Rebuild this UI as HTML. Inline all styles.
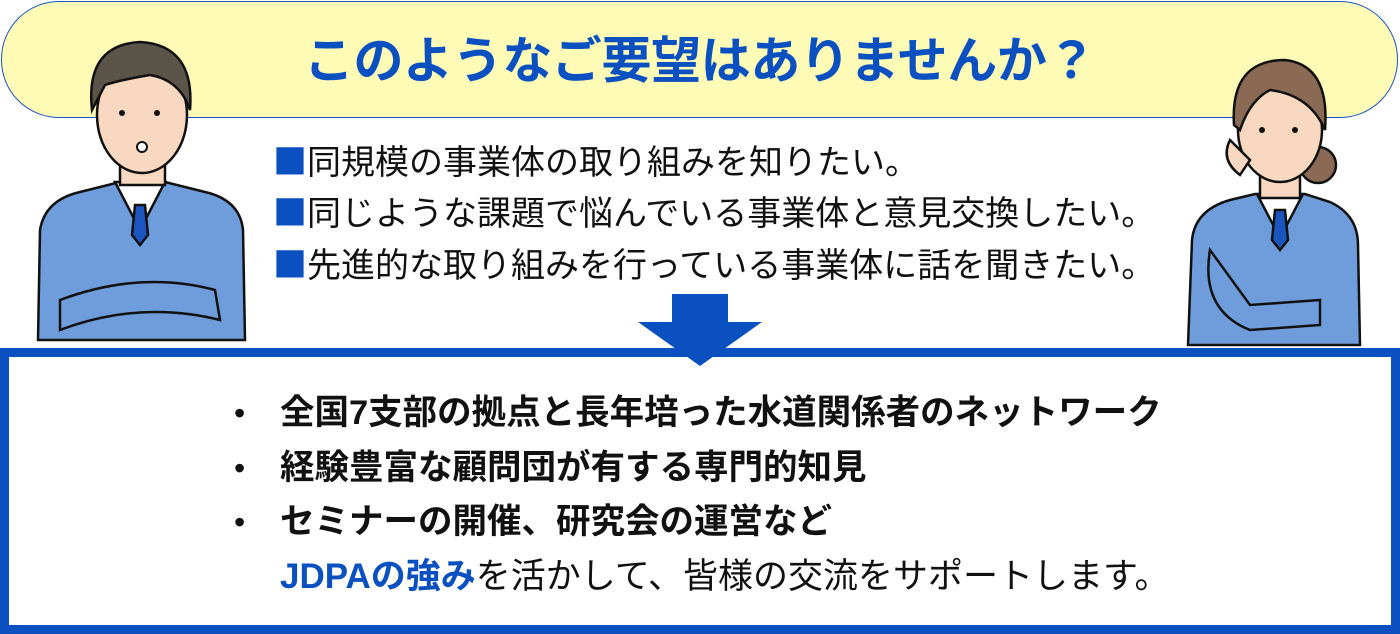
<!DOCTYPE html>
<html><head><meta charset="utf-8"><style>
body{margin:0;width:1400px;height:634px;overflow:hidden;background:#fff;position:relative;font-family:"Liberation Sans","Noto Sans CJK JP",sans-serif}
.banner{position:absolute;left:1px;top:1px;width:1395px;height:115px;background:#fdfbb6;border:1.5px solid #1a55c0;border-radius:58px}
.title{position:absolute;left:0;width:1400px;top:30px;text-align:center;font-size:50px;font-weight:bold;color:#0a50c0;line-height:62px;letter-spacing:-0.4px}
.q{position:absolute;left:273px;font-size:34px;color:#111;line-height:40px;letter-spacing:0px}
.q b{color:#0a50c0;font-weight:normal;font-family:"Noto Sans CJK JP",sans-serif}
.box{position:absolute;left:0;top:348px;width:1382px;height:268px;border:9px solid #0a50c0;background:#fff}
.s{position:absolute;left:280px;font-size:34.5px;font-weight:bold;color:#111;line-height:40px;letter-spacing:0px}
.dot{position:absolute;left:234px;font-size:32px;color:#111;line-height:40px}
</style></head><body>
<div class="banner"></div>
<div class="title">このようなご要望はありませんか？</div>
<div class="q" style="top:140px"><b>■</b>同規模の事業体の取り組みを知りたい。</div>
<div class="q" style="top:191px"><b>■</b>同じような課題で悩んでいる事業体と意見交換したい。</div>
<div class="q" style="top:243px"><b>■</b>先進的な取り組みを行っている事業体に話を聞きたい。</div>
<div class="box"></div>
<svg style="position:absolute;left:0;top:0" width="1400" height="634">
<rect x="672" y="294" width="56" height="30" fill="#0a50c0"/>
<polygon points="638,322 762,322 700,366" fill="#0a50c0"/>
<g stroke="#111" stroke-width="2.5">
<path d="M38,340 L40,230 Q45,200 80,192 L120,182 L165,182 L205,192 Q240,200 243,230 L245,340 Z" fill="#6f9ddc"/>
<path d="M115,182 L140,230 L165,182 Z" fill="#fff"/>
<path d="M135,205 L145,205 L148,235 L140,245 L132,235 Z" fill="#1a55c0"/>
<rect x="120" y="160" width="45" height="25" fill="#f8d8c0"/>
<ellipse cx="142" cy="115" rx="45" ry="58" fill="#f8d8c0"/>
<path d="M92,110 Q85,45 140,42 Q195,45 190,110 Q180,80 150,75 Q120,80 105,85 Z" fill="#5b5448"/>
<path d="M60,300 Q140,270 215,290 L220,320 Q140,300 60,330 Z" fill="#6f9ddc"/>
</g>
<circle cx="122" cy="113" r="3" fill="#111"/><circle cx="157" cy="113" r="3" fill="#111"/>
<circle cx="142" cy="147" r="5" fill="#fff" stroke="#111" stroke-width="2"/>
<g stroke="#111" stroke-width="2.5">
<path d="M1188,345 L1192,240 Q1195,210 1230,200 L1255,194 L1305,194 L1330,202 Q1358,215 1358,245 L1360,345 Z" fill="#6f9ddc"/>
<path d="M1258,196 L1280,238 L1302,196 Z" fill="#fff"/>
<path d="M1275,210 L1285,210 L1288,240 L1280,250 L1272,240 Z" fill="#1a55c0"/>
<rect x="1260" y="170" width="40" height="28" fill="#f8d8c0"/>
<circle cx="1318" cy="165" r="18" fill="#8a6a55"/>
<ellipse cx="1280" cy="130" rx="42" ry="52" fill="#f8d8c0"/>
<path d="M1234,125 Q1230,60 1285,60 Q1330,65 1325,130 Q1310,95 1270,90 Q1250,100 1240,130 Z" fill="#8a6a55"/>
<path d="M1230,140 Q1220,160 1240,175 L1250,160 Z" fill="#f8d8c0"/>
<path d="M1210,250 Q1200,310 1250,330 L1320,325 L1320,300 L1250,305 Z" fill="#6f9ddc"/>
</g>
<circle cx="1262" cy="130" r="3" fill="#111"/><circle cx="1295" cy="130" r="3" fill="#111"/>
</svg>
<div class="dot" style="top:393px">•</div><div class="s" style="top:393px">全国7支部の拠点と長年培った水道関係者のネットワーク</div>
<div class="dot" style="top:448px">•</div><div class="s" style="top:448px">経験豊富な顧問団が有する専門的知見</div>
<div class="dot" style="top:502px">•</div><div class="s" style="top:502px">セミナーの開催、研究会の運営など</div>
<div class="s" style="top:557px;font-weight:normal;font-size:35px"><b style="color:#0a50c0">JDPAの強み</b>を活かして、皆様の交流をサポートします。</div>
</body></html>
